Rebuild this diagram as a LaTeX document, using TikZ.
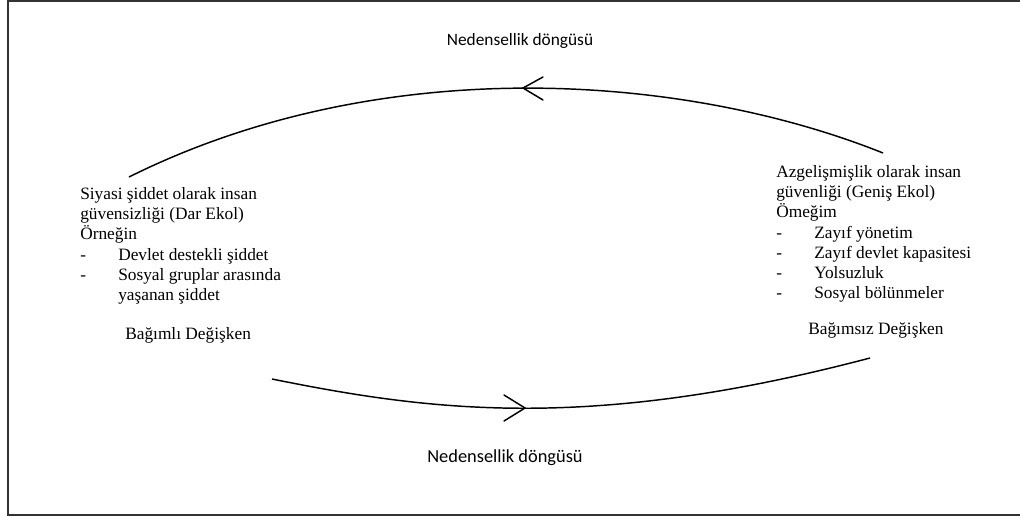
\documentclass[tikz,border=0pt]{standalone}
\usepackage{fontspec}
\setmainfont{Liberation Serif}
\newfontfamily\labelfont{Carlito}
\usetikzlibrary{arrows.meta}

\newcommand{\dashitem}[1]{\makebox[28.5pt][l]{-}#1}
\newcommand{\dashcont}[1]{\hspace*{28.5pt}#1}

\begin{document}
\begin{tikzpicture}[x=0.75pt,y=-0.75pt,
  frame/.style={line width=1.5pt, black!80},
  loopline/.style={line width=1.1pt},
  barb/.style={line width=1.1pt, line cap=round, line join=miter},
  body/.style={inner sep=0pt, align=left, font=\fontsize{13}{15.2}\selectfont},
  caption/.style={inner sep=0pt, font=\labelfont\fontsize{13}{15}\selectfont}]
\useasboundingbox (0,0) rectangle (1020,517);

% page frame, open on the right
\draw[frame] (1020,1) -- (7.5,1) -- (7.5,515) -- (1020,515);

% left block: dependent variable
\node[body, anchor=north west] (dep) at (80,187)
  {Siyasi şiddet olarak insan\\
   güvensizliği (Dar Ekol)\\
   Örneğin\\
   \dashitem{Devlet destekli şiddet}\\
   \dashitem{Sosyal gruplar arasında}\\
   \dashcont{yaşanan şiddet}};
\node[body, anchor=base west] (deplabel) at (125,339) {Bağımlı Değişken};

% right block: independent variable
\node[body, anchor=north west] (indep) at (776,165)
  {Azgelişmişlik olarak insan\\
   güvenliği (Geniş Ekol)\\
   Ömeğim\\
   \dashitem{Zayıf yönetim}\\
   \dashitem{Zayıf devlet kapasitesi}\\
   \dashitem{Yolsuzluk}\\
   \dashitem{Sosyal bölünmeler}};
\node[body, anchor=base west] (indeplabel) at (808,334) {Bağımsız Değişken};

% causal loop captions
\node[caption] (looptop) at (520,41) {Nedensellik döngüsü};
\node[caption, font=\labelfont\fontsize{13.8}{15}\selectfont] (loopbot) at (505,458) {Nedensellik döngüsü};

% upper arc, running right to left
\coordinate (ta) at (883,153);
\coordinate (tb) at (129,177);
\coordinate (tm) at (523,88);
\draw[loopline] (ta) .. controls (683,73) and (380,52) .. (tb);
\draw[barb] ([shift={(20,-11)}]tm) -- (tm) -- ([shift={(20,12)}]tm);

% lower arc, running left to right
\coordinate (ba) at (272,379);
\coordinate (bb) at (870,358);
\coordinate (bm) at (525,408);
\draw[loopline] (ba) .. controls (430,411) and (589,432) .. (bb);
\draw[barb] ([shift={(-21,-13)}]bm) -- (bm) -- ([shift={(-21,13)}]bm);
\end{tikzpicture}
\end{document}
